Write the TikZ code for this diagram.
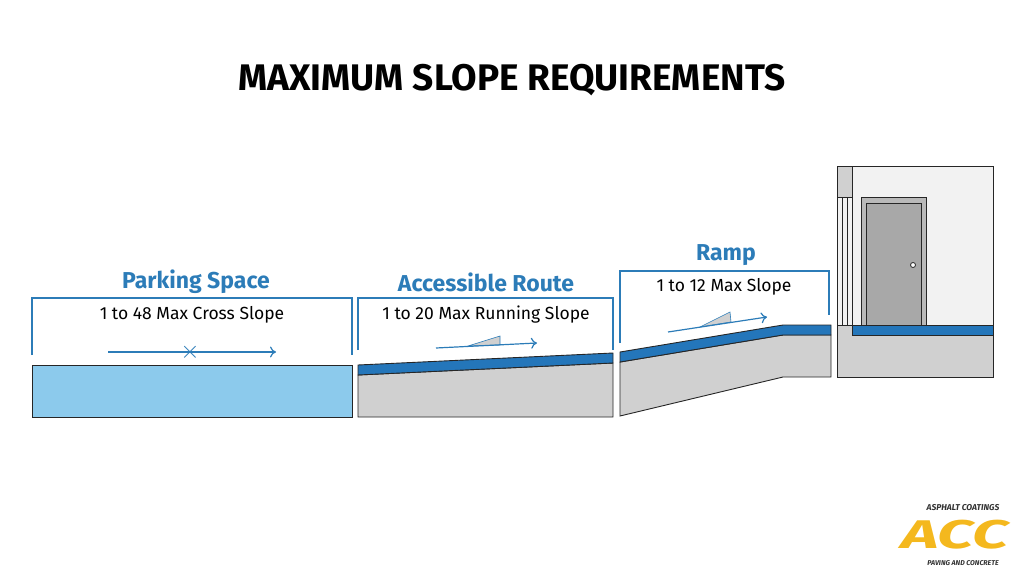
\documentclass[tikz,border=0pt]{standalone}
\usepackage{fontspec}
\setmainfont{Fira Sans}
\usetikzlibrary{positioning, arrows.meta}
\definecolor{routeblue}{RGB}{36,118,186}
\definecolor{labelblue}{RGB}{44,124,184}
\definecolor{paleblue}{RGB}{140,202,236}
\definecolor{slabgray}{RGB}{208,208,208}
\definecolor{doorgray}{RGB}{168,168,168}
\definecolor{wallgray}{RGB}{242,242,242}
\definecolor{accyellow}{RGB}{244,184,30}
\begin{document}
\begin{tikzpicture}[
    x=1pt, y=-1pt,
    bracket/.style={draw=labelblue, line width=1.6pt},
    heading/.style={font=\bfseries\fontsize{23}{26}\selectfont, text=labelblue},
    rule/.style={font=\fontsize{17.5}{20}\selectfont},
    slab/.style={draw=black!85, line width=0.9pt, fill=slabgray},
    band/.style={draw=black!85, line width=0.9pt, fill=routeblue},
    flow/.style={-{To[length=6pt,width=11pt]}, labelblue, line width=1.2pt},
    wedge/.style={draw=labelblue, line width=0.6pt, fill=slabgray}
]
    \useasboundingbox (0,0) rectangle (1024,572);

    \node[font=\bfseries\fontsize{37}{42}\selectfont] (title) at (512,80) {MAXIMUM SLOPE REQUIREMENTS};

    % Parking space
    \draw[bracket] (32,355) -- (32,298) -- (352,298) -- (352,355);
    \node[heading] (parking) at (196,282) {Parking Space};
    \node[rule] (parkrule) at (192,315) {1 to 48 Max Cross Slope};
    \draw[draw=black!85, line width=0.9pt, fill=paleblue] (32,365) rectangle (352,417);
    \coordinate (pa) at (108,352);
    \coordinate (pb) at (276,352);
    \draw[flow] (pa) -- (pb);
    \node[text=labelblue, font=\fontsize{24}{24}\selectfont, inner sep=0pt] (cross) at (190,352) {$\times$};

    % Accessible route
    \draw[bracket] (358,350) -- (358,298) -- (613,298) -- (613,350);
    \node[heading] (route) at (486,282) {Accessible Route};
    \node[rule] (routerule) at (486,315) {1 to 20 Max Running Slope};
    \draw[slab] (358,375) -- (613,363) -- (613,417) -- (358,417) -- cycle;
    \draw[band] (358,365) -- (613,353) -- (613,363) -- (358,375) -- cycle;
    \draw[wedge] (468,346) -- (500,336) -- (500,345) -- cycle;
    \coordinate (ra) at (436,348);
    \coordinate (rb) at (537,343);
    \draw[flow] (ra) -- (rb);

    % Ramp
    \draw[bracket] (620,343) -- (620,271) -- (829,271) -- (829,315);
    \node[heading] (ramp) at (726,255) {Ramp};
    \node[rule] (ramprule) at (724,287) {1 to 12 Max Slope};
    \draw[slab] (620,362) -- (783,335) -- (831,335) -- (831,377) -- (783,377) -- (620,416) -- cycle;
    \draw[band] (620,352) -- (783,325) -- (831,325) -- (831,335) -- (783,335) -- (620,362) -- cycle;
    \draw[wedge] (700,327) -- (730,312) -- (731,322) -- cycle;
    \coordinate (ma) at (668,332);
    \coordinate (mb) at (767,317);
    \draw[flow] (ma) -- (mb);

    % Building
    \draw[draw=black!85, line width=0.9pt, fill=wallgray] (852,166) rectangle (993,325);
    \fill[white] (993.5,160) rectangle (1000,330);
    \draw[draw=black!85, line width=0.9pt, fill=slabgray] (837,166) rectangle (852,197);
    \draw[draw=black!85, line width=0.7pt, fill=wallgray] (837,197) rectangle (852,325);
    \draw[draw=black!85, line width=0.6pt] (842,197) -- (842,325) (847,197) -- (847,325);
    \draw[slab] (837,325) rectangle (852,377);
    \draw[draw=black!85, line width=0.9pt, fill=doorgray!80] (861,197) rectangle (926,325);
    \draw[draw=black!85, line width=0.9pt, fill=doorgray] (866,203) rectangle (921,325);
    \draw[black!85, line width=0.8pt, fill=white] (913,265) circle (2.5);
    \draw[slab] (852,335) -- (993,335) -- (993,377) -- (852,377);
    \draw[band] (852,325) rectangle (993,335);

    % Logo
    \node[font=\bfseries\itshape\fontsize{8.5}{9}\selectfont, text=black!80] (logotop) at (963,508) {ASPHALT COATINGS};
    \node[font=\bfseries\itshape\fontsize{40}{40}\selectfont, text=accyellow, xscale=1.6, inner sep=0pt] (logo) at (955,535) {ACC};
    \node[font=\bfseries\itshape\fontsize{7}{8}\selectfont, text=black!80, inner sep=1pt] (logobot) at (963,563) {PAVING AND CONCRETE};
\end{tikzpicture}
\end{document}
